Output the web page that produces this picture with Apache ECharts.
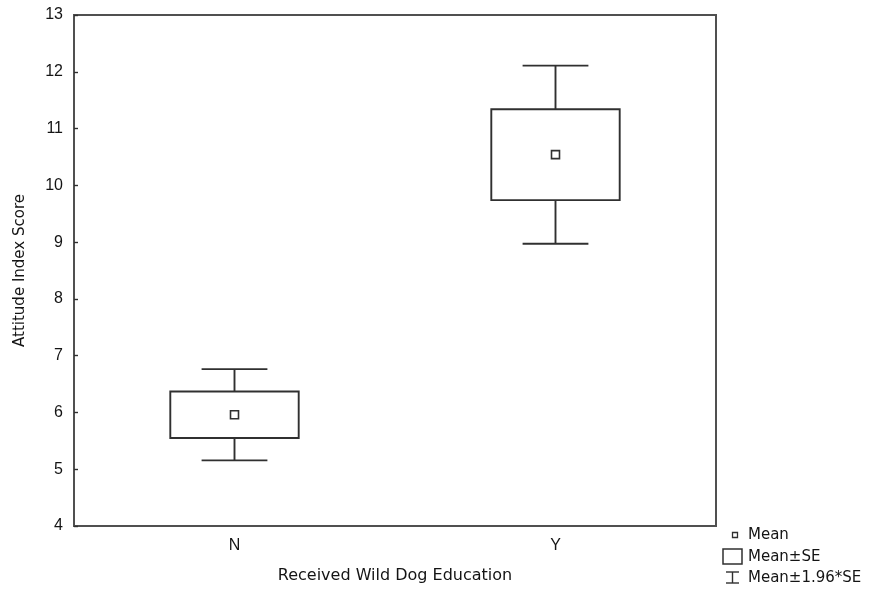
<!DOCTYPE html>
<html>
<head>
<meta charset="utf-8">
<script src="https://cdn.jsdelivr.net/npm/echarts@6/dist/echarts.min.js"></script>
<style>
  html, body { margin: 0; padding: 0; background: #fff; }
  #chart { width: 872px; height: 589px; }
</style>
</head>
<body>
<div id="chart"></div>
<script>
// Attitude index score by wild dog education group
const categories = ['N', 'Y'];
const means = [5.96, 10.54];
const standardErrors = [0.41, 0.80];
const yTicks = [4, 5, 6, 7, 8, 9, 10, 11, 12, 13];
const ciFactor = 1.96;

const lineColor = '#303030';
const frameColor = '#505050';
const textColor = '#141414';

const chart = echarts.init(document.getElementById('chart'));

const boxData = categories.map((c, i) => [
  i,
  means[i],
  means[i] - standardErrors[i],
  means[i] + standardErrors[i],
  means[i] - ciFactor * standardErrors[i],
  means[i] + ciFactor * standardErrors[i]
]);

function renderBox(params, api) {
  const idx = api.value(0);
  const pMean = api.coord([idx, api.value(1)]);
  const pSeLo = api.coord([idx, api.value(2)]);
  const pSeHi = api.coord([idx, api.value(3)]);
  const pCiLo = api.coord([idx, api.value(4)]);
  const pCiHi = api.coord([idx, api.value(5)]);
  const band = api.size([1, 0])[0];
  const boxW = band * 0.40;
  const capW = band * 0.205;
  const x = pMean[0];
  const style = { stroke: lineColor, lineWidth: 1.9, fill: null };
  return {
    type: 'group',
    children: [
      { type: 'line', shape: { x1: x, y1: pSeHi[1], x2: x, y2: pCiHi[1] }, style },
      { type: 'line', shape: { x1: x, y1: pSeLo[1], x2: x, y2: pCiLo[1] }, style },
      { type: 'line', shape: { x1: x - capW / 2, y1: pCiHi[1], x2: x + capW / 2, y2: pCiHi[1] }, style },
      { type: 'line', shape: { x1: x - capW / 2, y1: pCiLo[1], x2: x + capW / 2, y2: pCiLo[1] }, style },
      { type: 'rect', shape: { x: x - boxW / 2, y: pSeHi[1], width: boxW, height: pSeLo[1] - pSeHi[1] },
        style: { stroke: lineColor, lineWidth: 1.9, fill: '#fff' } },
      { type: 'rect', shape: { x: x - 4, y: pMean[1] - 4, width: 8, height: 8 },
        style: { stroke: lineColor, lineWidth: 1.6, fill: '#fff' } }
    ]
  };
}

const legendX = 735;
const legendTextX = 748;
const legendFont = { fontFamily: 'DejaVu Sans', fontSize: 15, fill: textColor };

chart.setOption({
  animation: false,
  backgroundColor: '#fff',
  grid: {
    left: 74, top: 15, right: 156, bottom: 61,
    show: true, borderColor: frameColor, borderWidth: 2, backgroundColor: 'transparent'
  },
  xAxis: {
    type: 'category',
    data: categories,
    name: 'Received Wild Dog Education',
    nameLocation: 'middle',
    nameGap: 42,
    nameTextStyle: { fontFamily: 'DejaVu Sans', fontSize: 16, color: textColor },
    axisLine: { lineStyle: { color: frameColor, width: 2 } },
    axisTick: { inside: true, alignWithLabel: true, length: 4, lineStyle: { color: lineColor, width: 1.4 } },
    axisLabel: { fontFamily: 'Liberation Sans', fontSize: 16, color: textColor, margin: 12 },
    splitLine: { show: false }
  },
  yAxis: {
    type: 'value',
    min: yTicks[0],
    max: yTicks[yTicks.length - 1],
    interval: 1,
    name: 'Attitude Index Score',
    nameLocation: 'middle',
    nameGap: 46,
    nameRotate: 90,
    nameTextStyle: { fontFamily: 'DejaVu Sans', fontSize: 15, color: textColor },
    axisLine: { show: true, lineStyle: { color: frameColor, width: 2 } },
    axisTick: { show: true, inside: true, length: 4, lineStyle: { color: lineColor, width: 1.4 } },
    axisLabel: { fontFamily: 'Liberation Sans', fontSize: 16, color: textColor, margin: 11 },
    splitLine: { show: false }
  },
  series: [{
    type: 'custom',
    renderItem: renderBox,
    data: boxData,
    encode: { x: 0, y: [2, 3, 4, 5] },
    z: 5
  }],
  graphic: [
    { type: 'rect', shape: { x: legendX - 2.5, y: 532.5, width: 5, height: 5 },
      style: { stroke: lineColor, lineWidth: 1.3, fill: '#fff' } },
    { type: 'text', x: legendTextX, y: 535,
      style: Object.assign({ text: 'Mean', textVerticalAlign: 'middle', verticalAlign: 'middle' }, legendFont) },
    { type: 'rect', shape: { x: 723, y: 549, width: 19, height: 15 },
      style: { stroke: lineColor, lineWidth: 1.5, fill: '#fff' } },
    { type: 'text', x: legendTextX, y: 557,
      style: Object.assign({ text: 'Mean±SE', textVerticalAlign: 'middle', verticalAlign: 'middle' }, legendFont) },
    { type: 'line', shape: { x1: 726, y1: 572, x2: 739, y2: 572 }, style: { stroke: lineColor, lineWidth: 1.4 } },
    { type: 'line', shape: { x1: 732.5, y1: 572, x2: 732.5, y2: 583 }, style: { stroke: lineColor, lineWidth: 1.4 } },
    { type: 'line', shape: { x1: 726, y1: 583, x2: 739, y2: 583 }, style: { stroke: lineColor, lineWidth: 1.4 } },
    { type: 'text', x: legendTextX, y: 578,
      style: Object.assign({ text: 'Mean±1.96*SE', textVerticalAlign: 'middle', verticalAlign: 'middle' }, legendFont) }
  ]
});
</script>
</body>
</html>
